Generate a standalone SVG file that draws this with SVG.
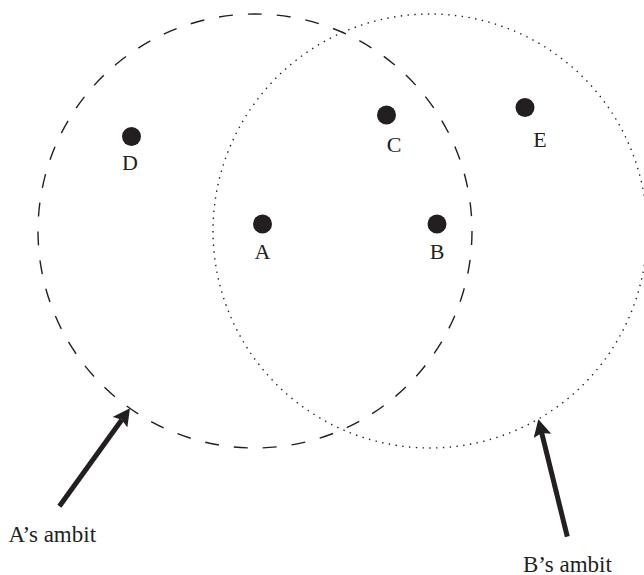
<svg xmlns="http://www.w3.org/2000/svg" width="644" height="575" viewBox="0 0 644 575">
<style>
.lbl{font-family:"Liberation Serif","Times New Roman",serif;font-size:22px;fill:#231f20;text-anchor:middle}
.cap{font-family:"Liberation Serif","Times New Roman",serif;font-size:23px;fill:#231f20}
.dot{fill:#231f20}
.ambA{fill:none;stroke:#231f20;stroke-width:1.4;stroke-dasharray:14 15}
.ambB{fill:none;stroke:#231f20;stroke-width:1.4;stroke-dasharray:1.4 5.4}
.arr{stroke:#231f20;stroke-width:5;fill:none;marker-end:url(#head)}
</style>
<defs>
<marker id="head" markerUnits="userSpaceOnUse" markerWidth="18" markerHeight="18" viewBox="0 0 17 18" refX="3" refY="9" orient="auto">
<path d="M0,0 L17,9 L0,18 L3,9 Z" fill="#231f20"/>
</marker>
</defs>
<rect width="644" height="575" fill="#fff"/>
<g id="ambitA"><circle class="ambA" cx="255" cy="231" r="217"/></g>
<g id="ambitB"><circle class="ambB" cx="430" cy="231" r="217"/></g>
<g id="nodeD"><circle class="dot" cx="131.5" cy="136.5" r="9.5"/><text class="lbl" x="130" y="170">D</text></g>
<g id="nodeC"><circle class="dot" cx="386.5" cy="115" r="9.5"/><text class="lbl" x="394" y="152">C</text></g>
<g id="nodeE"><circle class="dot" cx="525" cy="107.5" r="9.5"/><text class="lbl" x="540" y="146.5">E</text></g>
<g id="nodeA"><circle class="dot" cx="262.5" cy="224" r="9.5"/><text class="lbl" x="262.5" y="259">A</text></g>
<g id="nodeB"><circle class="dot" cx="437" cy="224" r="9.5"/><text class="lbl" x="437" y="259">B</text></g>
<g id="connectors">
<line class="arr" x1="59.4" y1="506.3" x2="121.8" y2="419.7"/>
<line class="arr" x1="567.3" y1="536.7" x2="541.7" y2="432.9"/>
</g>
<g id="captions">
<text class="cap" x="8.5" y="541.5">A’s ambit</text>
<text class="cap" x="523" y="571.5">B’s ambit</text>
</g>
</svg>
